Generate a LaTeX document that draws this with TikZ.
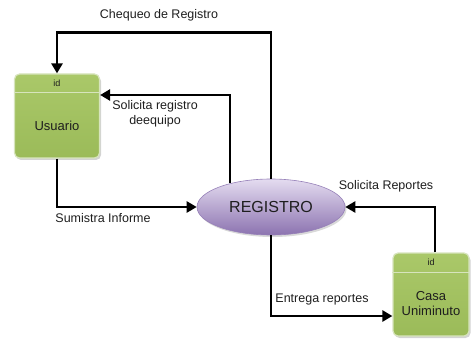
\documentclass[tikz,border=0pt]{standalone}
\usepackage{fontspec}
\setmainfont{Liberation Sans}
\usetikzlibrary{arrows.meta,shadows,positioning,shapes.geometric}
\definecolor{boxgreen}{RGB}{155,187,89}
\definecolor{boxgreenlight}{RGB}{170,200,105}
\definecolor{boxborder}{RGB}{215,228,189}
\definecolor{purpletop}{RGB}{228,220,240}
\definecolor{purplebot}{RGB}{140,115,176}
\definecolor{purpleline}{RGB}{150,128,184}
\definecolor{txt}{RGB}{30,30,30}
\begin{document}
\begin{tikzpicture}[x=1pt,y=-1pt,
  lbl/.style={font=\fontsize{12.5}{14.5}\selectfont, text=txt, inner sep=0pt},
  entity/.style={rectangle, rounded corners=5pt, draw=boxborder, line width=1.2pt,
    top color=boxgreenlight, bottom color=boxgreen,
    drop shadow={opacity=0.35, shadow xshift=1.5pt, shadow yshift=-2pt},
    font=\fontsize{12.5}{14.5}\selectfont, text=txt, align=center, inner sep=0pt},
  process/.style={ellipse, draw=purpleline, line width=0.6pt,
    top color=purpletop, bottom color=purplebot,
    drop shadow={opacity=0.3, shadow xshift=1.5pt, shadow yshift=-2pt},
    minimum width=148pt, minimum height=56pt, inner sep=0pt,
    font=\fontsize{16}{18}\selectfont, text=txt},
  hdr/.style={font=\fontsize{9}{10}\selectfont, text=txt, inner sep=0pt},
  flow/.style={line width=2.4pt, draw=black, -{Triangle[length=10pt,width=11pt]}}
]
\useasboundingbox (0,0) rectangle (471,339);

% entities
\node[entity, minimum width=85pt, minimum height=84pt] (usr) at (57,116) {};
\draw[boxborder, line width=1.2pt] ([yshift=-19pt]usr.north west) -- ([yshift=-19pt]usr.north east);
\node[hdr] (usrid) at (57,83.5) {id};
\node[lbl, font=\fontsize{13}{15}\selectfont] (usrtxt) at (57,126) {Usuario};

\node[entity, minimum width=76pt, minimum height=83pt] (casa) at (431,294.5) {};
\draw[boxborder, line width=1.2pt] ([yshift=-20pt]casa.north west) -- ([yshift=-20pt]casa.north east);
\node[hdr] (casaid) at (431,262.5) {id};
\node[lbl, align=center, font=\fontsize{13}{15}\selectfont] (casatxt) at (431,304) {Casa\\Uniminuto};

% process
\node[process] (reg) at (271,207) {REGISTRO};

% connectors
\draw[flow] (reg.north) -- ++(0,-146) -| (usr.north);
\draw[flow] (reg.150) |- ([yshift=21pt]usr.east);
\draw[flow] (usr.south) |- (reg.west);
\draw[flow] ([xshift=4pt]casa.north) |- (reg.east);
\draw[flow] (reg.south) |- ([yshift=-21.5pt]casa.west);

% labels
\node[lbl] (l1) at (159,15) {Chequeo de Registro};
\node[lbl, align=center] (l2) at (155,114) {Solicita registro\\deequipo};
\node[lbl] (l3) at (103,218) {Sumistra Informe};
\node[lbl] (l4) at (386,186) {Solicita Reportes};
\node[lbl] (l5) at (322,299) {Entrega reportes};
\end{tikzpicture}
\end{document}
